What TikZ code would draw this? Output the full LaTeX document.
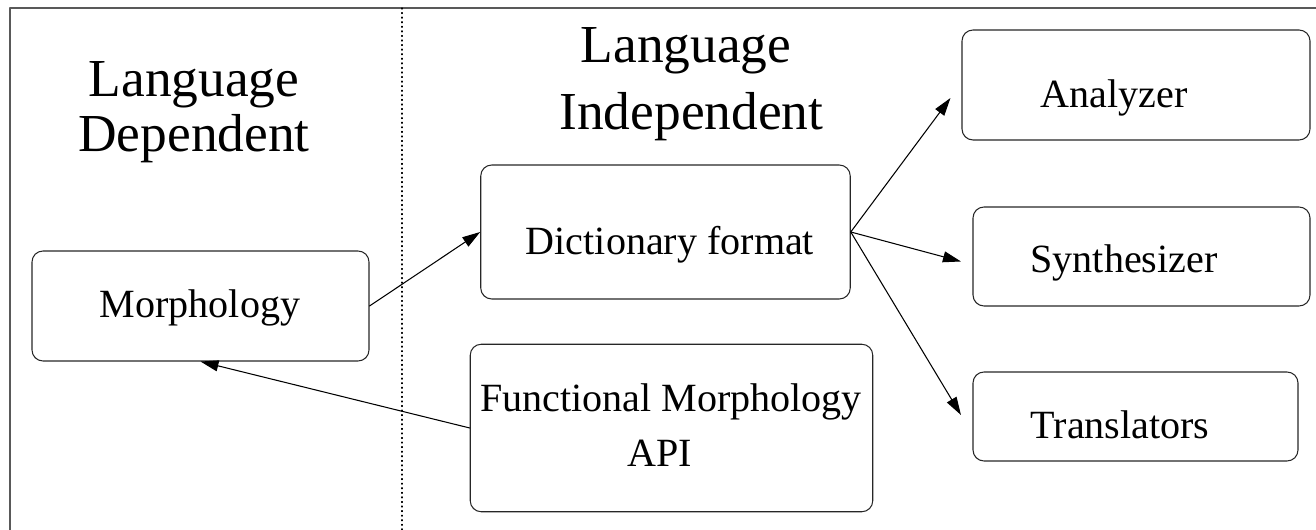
\documentclass[tikz,border=0pt]{standalone}
\usepackage{fontspec}
\setmainfont{Liberation Serif}
\usetikzlibrary{arrows.meta}

\begin{document}
\begin{tikzpicture}[line cap=round,line join=round,
  box/.style={draw=black!85,line width=0.6pt,rounded corners=0.22cm,inner sep=0pt},
  txt/.style={anchor=base,inner sep=0pt,font=\fontsize{22.8}{27}\selectfont},
  head/.style={anchor=base,inner sep=0pt,font=\fontsize{30.4}{36}\selectfont},
  link/.style={line width=0.6pt,-{Triangle[length=0.36cm,width=0.22cm]}}]
  \useasboundingbox (0,0) rectangle (26.32,10.6);

  % outer frame and the dotted split line
  \draw[line width=1.1pt,black!65] (26.5,10.44) -- (0.2,10.44) -- (0.2,-0.2);
  \draw[dotted,line width=0.6pt] (8.04,10.44) -- (8.04,0);

  \node[head] (dep-a) at (3.88,8.66) {Language};
  \node[head] (dep-b) at (3.88,7.56) {Dependent};
  \node[head] (ind-a) at (13.72,9.34) {Language};
  \node[head] (ind-b) at (13.83,8.0) {Independent};

  \node[box,minimum width=6.74cm,minimum height=2.2cm] (morph) at (4.01,4.48) {};
  \node[box,minimum width=7.39cm,minimum height=2.68cm] (dict) at (13.31,5.96) {};
  \node[box,minimum width=8.05cm,minimum height=3.35cm] (func) at (13.43,2.04) {};
  \node[box,minimum width=6.96cm,minimum height=2.2cm] (ana) at (22.72,8.9) {};
  \node[box,minimum width=6.74cm,minimum height=1.98cm] (syn) at (22.83,5.47) {};
  \node[box,minimum width=6.5cm,minimum height=1.78cm] (tra) at (22.71,2.27) {};

  \node[txt] (morph-t) at (4.0,4.25) {Morphology};
  \node[txt] (dict-t) at (13.4,5.5) {Dictionary format};
  \node[txt] (func-a) at (13.42,2.37) {Functional Morphology};
  \node[txt] (func-b) at (13.2,1.27) {API};
  \node[txt] (ana-t) at (22.28,8.44) {Analyzer};
  \node[txt] (syn-t) at (22.48,5.14) {Synthesizer};
  \node[txt] (tra-t) at (22.4,1.82) {Translators};

  % arrow tips stop a little short of the right column
  \coordinate (ana-in) at ([shift={(-0.22,-0.26)}]ana.west);
  \coordinate (syn-in) at ([shift={(-0.23,-0.1)}]syn.west);
  \coordinate (tra-in) at ([shift={(-0.23,0.03)}]tra.west);

  \draw[link] (morph.east) -- (dict.west);
  \draw[link] (func.west) -- (morph.south);
  \draw[link] (dict.east) -- (ana-in);
  \draw[link] (dict.east) -- (syn-in);
  \draw[link] (dict.east) -- (tra-in);
\end{tikzpicture}
\end{document}
